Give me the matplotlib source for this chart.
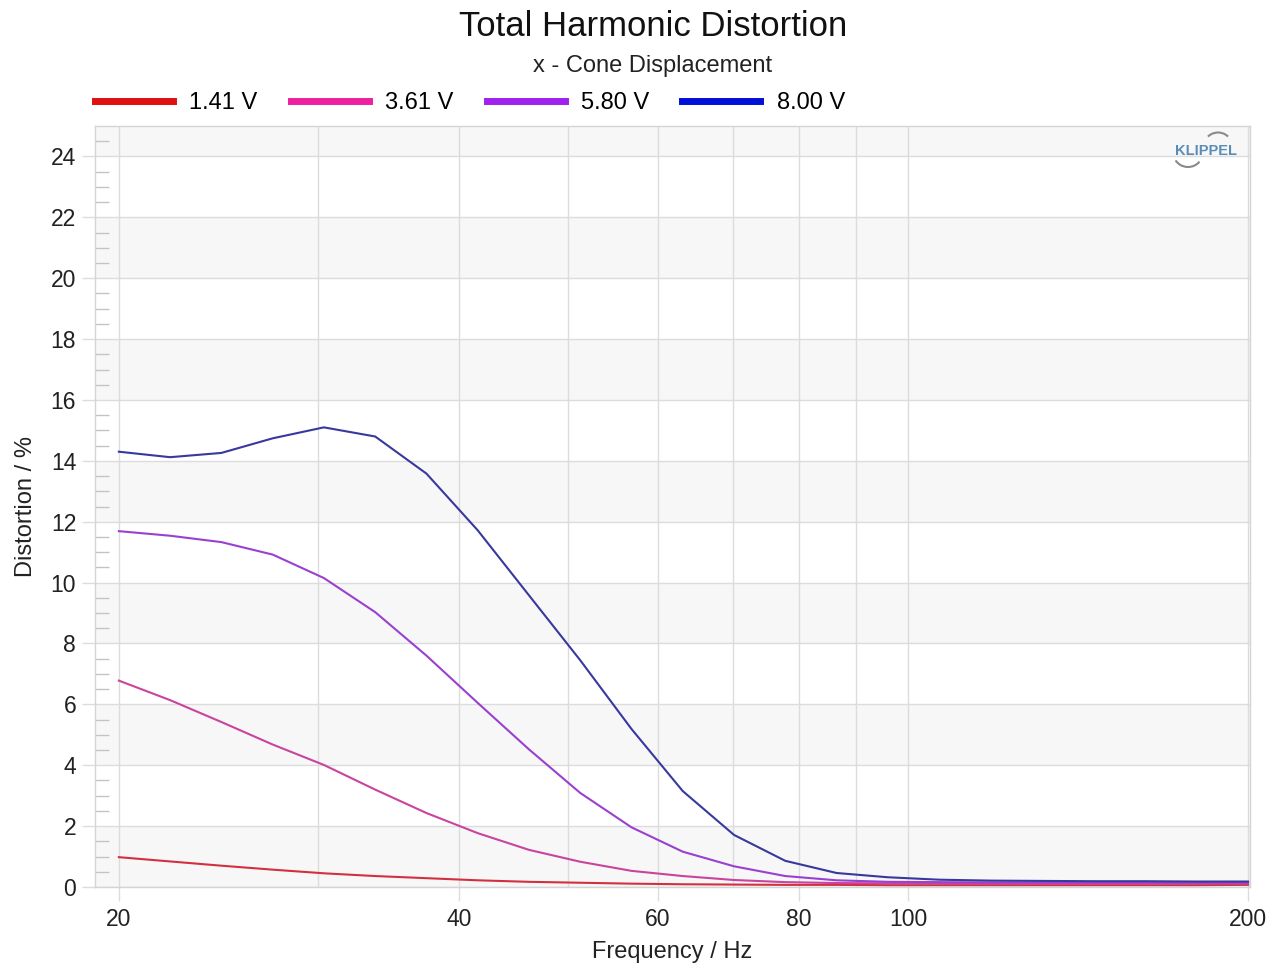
import matplotlib
matplotlib.use("Agg")
import matplotlib.pyplot as plt
from matplotlib.lines import Line2D
from matplotlib.patches import Arc
from matplotlib.ticker import FixedLocator, NullFormatter

plt.rcParams['font.family'] = ['Liberation Sans', 'DejaVu Sans']

# Measurement frequencies (Hz)
freqs = [20.0, 22.2, 24.65, 27.37, 30.38, 33.73, 37.45, 41.57, 46.16, 51.24,
         56.89, 63.16, 70.12, 77.84, 86.42, 95.94, 106.5, 118.3, 131.3,
         145.8, 161.8, 179.6, 200.0]

# THD (%) per drive voltage
thd_141 = [0.98, 0.84, 0.70, 0.57, 0.45, 0.36, 0.29, 0.22, 0.17, 0.14, 0.11,
           0.09, 0.08, 0.07, 0.07, 0.06, 0.06, 0.06, 0.06, 0.06, 0.06, 0.06, 0.07]
thd_361 = [6.78, 6.14, 5.42, 4.68, 4.01, 3.20, 2.43, 1.77, 1.22, 0.83, 0.53,
           0.36, 0.23, 0.16, 0.13, 0.12, 0.12, 0.11, 0.11, 0.11, 0.11, 0.11, 0.11]
thd_580 = [11.69, 11.54, 11.33, 10.92, 10.15, 9.03, 7.60, 6.05, 4.52, 3.09,
           1.96, 1.16, 0.68, 0.36, 0.22, 0.17, 0.16, 0.15, 0.15, 0.15, 0.15,
           0.15, 0.15]
thd_800 = [14.30, 14.12, 14.26, 14.74, 15.10, 14.80, 13.58, 11.72, 9.58, 7.45,
           5.19, 3.15, 1.71, 0.86, 0.46, 0.32, 0.24, 0.21, 0.20, 0.19, 0.19,
           0.18, 0.18]

series_labels = ['1.41 V', '3.61 V', '5.80 V', '8.00 V']
series_values = [thd_141, thd_361, thd_580, thd_800]
legend_colors = ['#e01010', '#ee20a0', '#a020ee', '#0010d8']
line_colors = ['#d23040', '#c8449e', '#9a40d0', '#38389e']

x_major = [20, 40, 60, 80, 100, 200]
x_major_labels = ['20', '40', '60', '80', '100', '200']
x_minor = [30, 50, 70, 90]
y_major = list(range(0, 25, 2))

GRID = '#dcdcdc'
BAND = '#f7f7f7'

fig = plt.figure(figsize=(12.72, 9.64), dpi=100)
ax = fig.add_axes([95 / 1272, 1 - 887 / 964, 1155 / 1272, 761 / 964])
ax.set_xscale('log')
ax.set_xlim(19.05, 200.8)
ax.set_ylim(0, 25)

# alternating horizontal bands
for lo in range(0, 26, 4):
    ax.axhspan(lo, lo + 2, color=BAND, zorder=0, lw=0)

for lab, vals, c in zip(series_labels, series_values, line_colors):
    ax.plot(freqs, vals, color=c, lw=1.5, zorder=3, label=lab)

# x axis
ax.xaxis.set_major_locator(FixedLocator(x_major))
ax.set_xticklabels(x_major_labels)
ax.xaxis.set_minor_locator(FixedLocator(x_minor))
ax.xaxis.set_minor_formatter(NullFormatter())
ax.tick_params(axis='x', which='major', direction='out', length=10,
               width=1, color=GRID, labelsize=16.5, pad=5, labelcolor='#222222')
ax.tick_params(axis='x', which='minor', length=0)

# y axis
ax.set_yticks(y_major)
ax.yaxis.set_minor_locator(FixedLocator([v / 2 for v in range(0, 50) if v % 4]))
ax.tick_params(axis='y', which='major', direction='out', length=9.5,
               width=1, color=GRID, labelsize=16.5, pad=4, labelcolor='#222222')
ax.tick_params(axis='y', which='minor', direction='in', length=10,
               width=1, color='#c4c4c4')

ax.grid(True, which='major', axis='both', color=GRID, lw=1, zorder=1)
ax.grid(True, which='minor', axis='x', color=GRID, lw=1, zorder=1)
ax.set_axisbelow(True)

for s in ax.spines.values():
    s.set_color('#d4d4d4')
    s.set_linewidth(1)

ax.set_xlabel('Frequency / Hz', fontsize=17, color='#222222', labelpad=7)
ax.set_ylabel('Distortion / %', fontsize=17, color='#222222', labelpad=10)

fig.text(653 / 1272, 1 - 27 / 964, 'Total Harmonic Distortion', fontsize=25,
         ha='center', va='center', color='#111111')
fig.text(653 / 1272, 1 - 66 / 964, 'x - Cone Displacement', fontsize=17,
         ha='center', va='center', color='#222222')

handles = [Line2D([], [], color=c, lw=5) for c in legend_colors]
fig.legend(handles, series_labels, loc='center left',
           bbox_to_anchor=(95 / 1272, 1 - 103 / 964), ncol=4, frameon=False,
           fontsize=17, handlelength=3.3, handletextpad=0.7,
           columnspacing=1.4, borderpad=0, borderaxespad=0)

# KLIPPEL logo
fig.text(1206 / 1272, 1 - 151 / 964, 'KLIPPEL', fontsize=10.5,
         fontweight='bold', ha='center', va='center', color='#5a8db5')
fig.add_artist(Arc((12.18, 8.17), 0.29, 0.29, theta1=46, theta2=134,
                   transform=fig.dpi_scale_trans, color='#8a8a8a', lw=1.5))
fig.add_artist(Arc((11.88, 8.12), 0.30, 0.30, theta1=214, theta2=320,
                   transform=fig.dpi_scale_trans, color='#8a8a8a', lw=1.5))

fig.savefig('out.png', dpi=100, facecolor='white')
